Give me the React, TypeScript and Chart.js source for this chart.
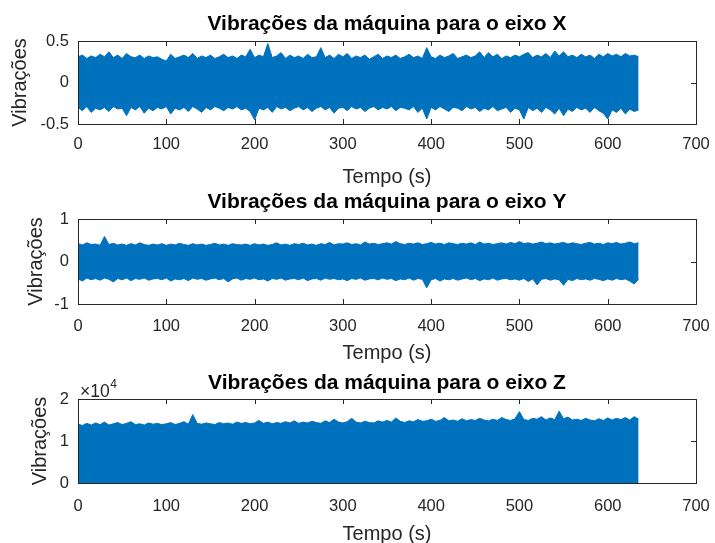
import React, { useEffect, useRef } from "react";
import { Chart, registerables } from "chart.js";

Chart.register(...registerables);

// ---------------- DATA ----------------
const TIME_S = [
  0, 5, 10, 15, 20, 25, 30, 35, 40, 45,
  50, 55, 60, 65, 70, 75, 80, 85, 90, 95,
  100, 105, 110, 115, 120, 125, 130, 135, 140, 145,
  150, 155, 160, 165, 170, 175, 180, 185, 190, 195,
  200, 205, 210, 215, 220, 225, 230, 235, 240, 245,
  250, 255, 260, 265, 270, 275, 280, 285, 290, 295,
  300, 305, 310, 315, 320, 325, 330, 335, 340, 345,
  350, 355, 360, 365, 370, 375, 380, 385, 390, 395,
  400, 405, 410, 415, 420, 425, 430, 435, 440, 445,
  450, 455, 460, 465, 470, 475, 480, 485, 490, 495,
  500, 505, 510, 515, 520, 525, 530, 535, 540, 545,
  550, 555, 560, 565, 570, 575, 580, 585, 590, 595,
  600, 605, 610, 615, 620, 625, 630, 635,
];

const X_TICKS = [0, 100, 200, 300, 400, 500, 600, 700];

// Eixo X: upper / lower envelope of the signal
const X_UPPER = [
  0.31, 0.33, 0.29, 0.32, 0.30, 0.34, 0.31, 0.37, 0.30, 0.33,
  0.29, 0.35, 0.31, 0.30, 0.33, 0.29, 0.32, 0.30, 0.31, 0.28,
  0.26, 0.34, 0.29, 0.31, 0.33, 0.30, 0.35, 0.29, 0.32, 0.30,
  0.33, 0.29, 0.31, 0.34, 0.30, 0.32, 0.29, 0.33, 0.31, 0.40,
  0.30, 0.33, 0.31, 0.47, 0.30, 0.32, 0.36, 0.29, 0.33, 0.30,
  0.32, 0.29, 0.34, 0.30, 0.31, 0.42, 0.30, 0.33, 0.29, 0.34,
  0.31, 0.35, 0.29, 0.32, 0.30, 0.33, 0.28, 0.31, 0.34, 0.29,
  0.32, 0.30, 0.33, 0.29, 0.31, 0.34, 0.30, 0.32, 0.29, 0.42,
  0.31, 0.29, 0.33, 0.30, 0.32, 0.35, 0.29, 0.31, 0.33, 0.30,
  0.32, 0.37, 0.30, 0.36, 0.31, 0.34, 0.29, 0.32, 0.30, 0.33,
  0.31, 0.34, 0.36, 0.30, 0.33, 0.31, 0.35, 0.30, 0.38, 0.32,
  0.37, 0.31, 0.33, 0.30, 0.34, 0.31, 0.33, 0.29, 0.34, 0.31,
  0.35, 0.32, 0.34, 0.31, 0.35, 0.32, 0.33, 0.31,
];
const X_LOWER = [
  -0.30, -0.34, -0.29, -0.36, -0.31, -0.33, -0.30, -0.35, -0.29, -0.32,
  -0.31, -0.40, -0.30, -0.33, -0.29, -0.37, -0.31, -0.34, -0.30, -0.32,
  -0.29, -0.38, -0.31, -0.33, -0.30, -0.35, -0.29, -0.32, -0.36, -0.30,
  -0.33, -0.29, -0.31, -0.34, -0.30, -0.32, -0.29, -0.33, -0.31, -0.35,
  -0.45, -0.31, -0.33, -0.30, -0.36, -0.29, -0.32, -0.30, -0.34, -0.31,
  -0.29, -0.33, -0.30, -0.35, -0.31, -0.29, -0.33, -0.30, -0.37, -0.31,
  -0.30, -0.34, -0.29, -0.32, -0.30, -0.35, -0.31, -0.29, -0.33, -0.30,
  -0.32, -0.29, -0.34, -0.30, -0.31, -0.33, -0.29, -0.36, -0.31, -0.44,
  -0.30, -0.33, -0.29, -0.32, -0.35, -0.30, -0.31, -0.34, -0.29, -0.32,
  -0.30, -0.35, -0.31, -0.33, -0.29, -0.34, -0.32, -0.30, -0.36, -0.31,
  -0.33, -0.44, -0.30, -0.34, -0.31, -0.36, -0.30, -0.33, -0.38, -0.31,
  -0.40, -0.32, -0.35, -0.30, -0.33, -0.31, -0.36, -0.30, -0.34, -0.37,
  -0.44, -0.33, -0.36, -0.31, -0.38, -0.32, -0.35, -0.33,
];
const X_AXIS_TICKS = [-0.5, 0, 0.5];
const X_AXIS_LABELS = ["-0.5", "0", "0.5"];

// Eixo Y
const Y_UPPER = [
  0.42, 0.39, 0.44, 0.40, 0.41, 0.38, 0.59, 0.40, 0.43, 0.39,
  0.41, 0.38, 0.42, 0.39, 0.44, 0.40, 0.38, 0.41, 0.39, 0.42,
  0.38, 0.41, 0.39, 0.43, 0.40, 0.38, 0.42, 0.39, 0.41, 0.38,
  0.40, 0.43, 0.39, 0.41, 0.38, 0.42, 0.40, 0.39, 0.41, 0.38,
  0.42, 0.39, 0.41, 0.38, 0.40, 0.44, 0.39, 0.41, 0.38, 0.42,
  0.40, 0.43, 0.39, 0.41, 0.38, 0.42, 0.40, 0.45, 0.39, 0.42,
  0.41, 0.44, 0.40, 0.42, 0.39, 0.46, 0.41, 0.43, 0.40, 0.42,
  0.44, 0.41, 0.47, 0.42, 0.40, 0.43, 0.41, 0.44, 0.40, 0.42,
  0.45, 0.41, 0.43, 0.40, 0.44, 0.42, 0.40, 0.43, 0.41, 0.44,
  0.40, 0.46, 0.41, 0.43, 0.40, 0.42, 0.44, 0.41, 0.45, 0.42,
  0.47, 0.42, 0.44, 0.41, 0.43, 0.46, 0.42, 0.44, 0.41, 0.43,
  0.45, 0.41, 0.44, 0.42, 0.40, 0.43, 0.45, 0.41, 0.43, 0.40,
  0.44, 0.42, 0.45, 0.41, 0.43, 0.46, 0.42, 0.44,
];
const Y_LOWER = [
  -0.41, -0.46, -0.39, -0.43, -0.40, -0.44, -0.39, -0.42, -0.48, -0.40,
  -0.43, -0.39, -0.45, -0.40, -0.42, -0.39, -0.44, -0.41, -0.40, -0.43,
  -0.39, -0.46, -0.41, -0.43, -0.40, -0.45, -0.39, -0.42, -0.40, -0.44,
  -0.41, -0.39, -0.43, -0.40, -0.48, -0.41, -0.39, -0.44, -0.40, -0.42,
  -0.39, -0.43, -0.41, -0.46, -0.40, -0.42, -0.39, -0.44, -0.41, -0.40,
  -0.43, -0.39, -0.45, -0.41, -0.40, -0.44, -0.39, -0.42, -0.40, -0.43,
  -0.41, -0.45, -0.40, -0.42, -0.39, -0.44, -0.41, -0.40, -0.43, -0.39,
  -0.42, -0.40, -0.45, -0.41, -0.43, -0.39, -0.44, -0.40, -0.42, -0.62,
  -0.43, -0.40, -0.46, -0.41, -0.43, -0.40, -0.44, -0.41, -0.39, -0.43,
  -0.40, -0.45, -0.41, -0.43, -0.39, -0.44, -0.41, -0.40, -0.43, -0.41,
  -0.44, -0.40, -0.47, -0.41, -0.55, -0.42, -0.40, -0.44, -0.41, -0.43,
  -0.56, -0.42, -0.45, -0.40, -0.43, -0.41, -0.44, -0.40, -0.42, -0.45,
  -0.41, -0.44, -0.40, -0.43, -0.41, -0.46, -0.53, -0.42,
];
const Y_AXIS_TICKS = [-1, 0, 1];
const Y_AXIS_LABELS = ["-1", "0", "1"];

// Eixo Z (raw values, axis shown as x10^4)
const Z_UPPER = [
  14000, 13700, 14200, 13800, 14300, 13900, 14500, 13800, 14100, 14400,
  13900, 14200, 14600, 13900, 14100, 13800, 14300, 14000, 14200, 13900,
  14100, 14400, 13900, 14200, 14600, 14000, 16300, 14200, 14000, 14300,
  14100, 13900, 14400, 14100, 14300, 14000, 14500, 14200, 14400, 14100,
  14300, 14900, 14200, 14500, 14100, 14400, 14200, 14600, 14300, 14800,
  14200, 14500, 14300, 14700, 14400, 14200, 14800, 14400, 15200, 14500,
  14300, 14600, 15400, 14500, 14300, 14700, 14400, 14300, 14800, 14500,
  14900, 14500, 15500, 14700, 14400, 14800, 14600, 15100, 14700, 14800,
  15200, 14700, 14900, 15600, 14800, 15000, 14700, 15300, 14800, 15100,
  14900, 15400, 15000, 14800, 15200, 14900, 15600, 15100, 14900, 15300,
  17000, 15100, 14900, 15400, 15200, 15800, 15000, 15500, 15100, 17100,
  15300, 15700, 15000, 15200, 14900, 15400, 15000, 14800, 15300, 14900,
  15500, 15000, 15400, 15100, 15600, 15000, 15800, 15200,
];
const Z_AXIS_TICKS = [0, 10000, 20000];
const Z_AXIS_LABELS = ["0", "1", "2"];

const TITLES = [
  "Vibrações da máquina para o eixo X",
  "Vibrações da máquina para o eixo Y",
  "Vibrações da máquina para o eixo Z",
];
const X_LABEL = "Tempo (s)";
const Y_LABEL = "Vibrações";

// ---------------- STYLE ----------------
const BLUE = "#0072BD";
const AXIS = "#262626";
const FONT = "'Liberation Sans', Arial, Helvetica, sans-serif";
const W = 715;

type Panel = {
  top: number;
  height: number;
  title: string;
  upper: number[];
  lower: number[] | null;
  yMin: number;
  yMax: number;
  yTicks: number[];
  yLabels: string[];
  titlePadTop: number;
  titlePadBottom: number;
  xAxisHeight: number;
  tickPad: number;
  xTitlePad: number;
  yTitlePad: number;
  exponent: boolean;
};

const PANELS: Panel[] = [
  {
    top: 0, height: 190, title: TITLES[0], upper: X_UPPER, lower: X_LOWER,
    yMin: -0.5, yMax: 0.5, yTicks: X_AXIS_TICKS, yLabels: X_AXIS_LABELS,
    titlePadTop: 11.8, titlePadBottom: 4.0, xAxisHeight: 66, tickPad: 10.5,
    xTitlePad: 1.0, yTitlePad: 8, exponent: false,
  },
  {
    top: 182, height: 190, title: TITLES[1], upper: Y_UPPER, lower: Y_LOWER,
    yMin: -1, yMax: 1, yTicks: Y_AXIS_TICKS, yLabels: Y_AXIS_LABELS,
    titlePadTop: 7.3, titlePadBottom: 4.5, xAxisHeight: 68, tickPad: 13,
    xTitlePad: 6.9, yTitlePad: 24, exponent: false,
  },
  {
    top: 362, height: 190, title: TITLES[2], upper: Z_UPPER, lower: null,
    yMin: 0, yMax: 20000, yTicks: Z_AXIS_TICKS, yLabels: Z_AXIS_LABELS,
    titlePadTop: 8.3, titlePadBottom: 3.5, xAxisHeight: 69, tickPad: 14,
    xTitlePad: 5.2, yTitlePad: 28.6, exponent: true,
  },
];

const matlabAxes = {
  id: "matlabAxes",
  beforeDatasetsDraw(chart: any) {
    const { ctx, chartArea, scales } = chart;
    const { left, right, top, bottom } = chartArea;
    ctx.save();
    ctx.strokeStyle = AXIS;
    ctx.lineWidth = 1;
    ctx.beginPath();
    scales.x.ticks.forEach((t: any) => {
      const px = Math.round(scales.x.getPixelForValue(t.value)) + 0.5;
      ctx.moveTo(px, bottom);
      ctx.lineTo(px, bottom - 5);
      ctx.moveTo(px, top);
      ctx.lineTo(px, top + 5);
    });
    scales.y.ticks.forEach((t: any) => {
      const py = Math.round(scales.y.getPixelForValue(t.value)) + 0.5;
      ctx.moveTo(left, py);
      ctx.lineTo(left + 5, py);
      ctx.moveTo(right, py);
      ctx.lineTo(right - 5, py);
    });
    ctx.stroke();
    ctx.restore();
  },
  afterDatasetsDraw(chart: any) {
    const { ctx, chartArea } = chart;
    const { left, right, top, bottom } = chartArea;
    ctx.save();
    ctx.strokeStyle = AXIS;
    ctx.lineWidth = 1;
    ctx.strokeRect(left + 0.5, top + 0.5, right - left, bottom - top);
    ctx.restore();
  },
};

const exponentLabel = {
  id: "exponentLabel",
  afterDraw(chart: any) {
    const { ctx, chartArea } = chart;
    ctx.save();
    ctx.fillStyle = AXIS;
    ctx.textBaseline = "alphabetic";
    ctx.textAlign = "left";
    ctx.font = `17.5px ${FONT}`;
    const x0 = chartArea.left + 2;
    const base = chartArea.top - 2.3;
    ctx.fillText("×10", x0, base);
    const w = ctx.measureText("×10").width;
    ctx.font = `12px ${FONT}`;
    ctx.fillText("4", x0 + w + 0.5, base - 9);
    ctx.restore();
  },
};

function buildConfig(p: Panel): any {
  const upperPts = TIME_S.map((t, i) => ({ x: t, y: p.upper[i] }));
  const datasets: any[] = [
    {
      data: upperPts,
      borderColor: BLUE,
      backgroundColor: BLUE,
      borderWidth: 1,
      pointRadius: 0,
      tension: 0,
      fill: p.lower ? "+1" : "origin",
    },
  ];
  if (p.lower) {
    const lw = p.lower;
    datasets.push({
      data: TIME_S.map((t, i) => ({ x: t, y: lw[i] })),
      borderColor: BLUE,
      backgroundColor: BLUE,
      borderWidth: 1,
      pointRadius: 0,
      tension: 0,
      fill: false,
    });
  }
  const plugins: any[] = [matlabAxes];
  if (p.exponent) plugins.push(exponentLabel);
  return {
    type: "line",
    data: { datasets },
    plugins,
    options: {
      animation: false,
      responsive: false,
      maintainAspectRatio: false,
      events: [],
      layout: { padding: { left: 0, right: 19, top: 0, bottom: 0 } },
      plugins: {
        legend: { display: false },
        tooltip: { enabled: false },
        title: {
          display: true,
          text: p.title,
          fullSize: false,
          color: "#000000",
          font: { family: FONT, size: 21, weight: "bold", lineHeight: 1.2 },
          padding: { top: p.titlePadTop, bottom: p.titlePadBottom },
        },
      },
      scales: {
        x: {
          type: "linear",
          min: 0,
          max: 700,
          afterBuildTicks: (s: any) => {
            s.ticks = X_TICKS.map((v) => ({ value: v }));
          },
          afterFit: (s: any) => {
            s.height = p.xAxisHeight;
            s.paddingLeft = 0;
            s.paddingRight = 0;
          },
          grid: { display: false, drawTicks: false, tickLength: 0 },
          border: { display: false },
          ticks: {
            color: AXIS,
            font: { family: FONT, size: 16.5, lineHeight: 1.2 },
            padding: p.tickPad,
            maxRotation: 0,
            autoSkip: false,
            callback: (v: any) => String(v),
          },
          title: {
            display: true,
            text: X_LABEL,
            color: AXIS,
            font: { family: FONT, size: 20, lineHeight: 1.2 },
            padding: { top: 0, bottom: p.xTitlePad },
          },
        },
        y: {
          type: "linear",
          min: p.yMin,
          max: p.yMax,
          afterBuildTicks: (s: any) => {
            s.ticks = p.yTicks.map((v) => ({ value: v }));
          },
          afterFit: (s: any) => {
            s.width = 78;
          },
          grid: { display: false, drawTicks: false, tickLength: 0 },
          border: { display: false },
          ticks: {
            color: AXIS,
            font: { family: FONT, size: 16.5, lineHeight: 1.2 },
            padding: 9,
            autoSkip: false,
            callback: (_v: any, i: number) => p.yLabels[i],
          },
          title: {
            display: true,
            text: Y_LABEL,
            color: AXIS,
            font: { family: FONT, size: 20, lineHeight: 1.2 },
            padding: { top: p.yTitlePad, bottom: 0 },
          },
        },
      },
    },
  };
}

function PanelChart({ panel }: { panel: Panel }) {
  const ref = useRef<HTMLCanvasElement | null>(null);
  useEffect(() => {
    if (!ref.current) return;
    const chart = new Chart(ref.current, buildConfig(panel));
    return () => chart.destroy();
  }, [panel]);
  return (
    <canvas
      ref={ref}
      width={W}
      height={panel.height}
      style={{ position: "absolute", left: 0, top: panel.top, width: W, height: panel.height }}
    />
  );
}

export default function App() {
  return (
    <div
      style={{
        position: "absolute",
        left: 0,
        top: 0,
        width: W,
        height: 543,
        overflow: "hidden",
        background: "#ffffff",
      }}
    >
      {PANELS.map((p, i) => (
        <PanelChart key={i} panel={p} />
      ))}
    </div>
  );
}
